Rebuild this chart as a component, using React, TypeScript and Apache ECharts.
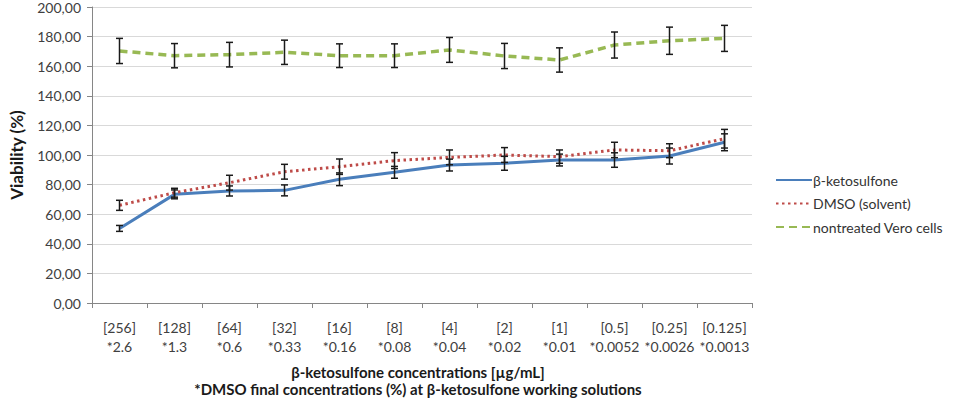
import React, { useEffect, useRef } from "react";
import * as echarts from "echarts";

const categories = [
  "[256]\n*2.6", "[128]\n*1.3", "[64]\n*0.6", "[32]\n*0.33", "[16]\n*0.16", "[8]\n*0.08",
  "[4]\n*0.04", "[2]\n*0.02", "[1]\n*0.01", "[0.5]\n*0.0052", "[0.25]\n*0.0026", "[0.125]\n*0.0013",
];
const ketoValues = [50.4, 73.4, 75.7, 76.1, 83.6, 88.3, 93.2, 94.4, 96.6, 96.6, 99.3, 108.6];
const ketoErrors = [2.0, 3.0, 3.4, 3.7, 4.3, 4.0, 4.0, 4.7, 4.0, 4.9, 5.4, 5.7];
const dmsoValues = [66.0, 74.5, 81.3, 88.7, 92.1, 96.2, 98.4, 100.0, 98.9, 103.4, 102.9, 111.0];
const dmsoErrors = [3.4, 3.0, 5.0, 5.0, 5.2, 5.4, 5.0, 5.0, 4.5, 5.2, 4.7, 6.3];
const veroValues = [170.3, 167.1, 167.8, 169.4, 167.1, 167.1, 171.0, 166.9, 164.2, 174.3, 177.2, 178.8];
const veroErrors = [8.5, 8.2, 8.3, 8.2, 8.0, 8.0, 8.4, 8.5, 8.2, 8.8, 9.2, 8.8];
const yTicks = { min: 0, max: 200, interval: 20 };

const FONT = "Lato, 'Noto Sans', sans-serif";

function errorData(values: number[], errors: number[]) {
  return values.map((v, i) => [i, v, errors[i]]);
}

function errorSeries(name: string, values: number[], errors: number[]) {
  return {
    type: "custom",
    name,
    silent: true,
    z: 5,
    data: errorData(values, errors),
    encode: { x: 0, y: 1 },
    renderItem: (params: any, api: any) => {
      const x = api.value(0);
      const v = api.value(1);
      const e = api.value(2);
      const top = api.coord([x, v + e]);
      const bot = api.coord([x, v - e]);
      const w = 3.5;
      const style = { stroke: "#1a1a1a", lineWidth: 1.5 };
      return {
        type: "group",
        children: [
          { type: "line", shape: { x1: top[0], y1: top[1], x2: bot[0], y2: bot[1] }, style },
          { type: "line", shape: { x1: top[0] - w, y1: top[1], x2: top[0] + w, y2: top[1] }, style },
          { type: "line", shape: { x1: bot[0] - w, y1: bot[1], x2: bot[0] + w, y2: bot[1] }, style },
        ],
      };
    },
  };
}

export default function App() {
  const ref = useRef<HTMLDivElement>(null);
  useEffect(() => {
    document.body.style.margin = "0";
    const chart = echarts.init(ref.current!, undefined, { renderer: "svg" });
    chart.setOption({
      animation: false,
      backgroundColor: "#ffffff",
      textStyle: { fontFamily: FONT },
      grid: { left: 83, right: 212, top: 7, bottom: 101 },
      legend: {
        orient: "vertical",
        left: 770,
        top: 168,
        itemWidth: 36,
        itemHeight: 14,
        itemGap: 9.5,
        itemStyle: { opacity: 0 },
        data: ["β-ketosulfone", "DMSO (solvent)", "nontreated Vero cells"],
        textStyle: { fontFamily: FONT, fontSize: 14, color: "#333333", padding: [0, 0, 0, -4] },
      },
      xAxis: {
        type: "category",
        data: categories,
        boundaryGap: true,
        axisLine: { lineStyle: { color: "#868686", width: 1 } },
        axisTick: { show: true, length: 5, lineStyle: { color: "#868686" } },
        axisLabel: {
          interval: 0,
          margin: 15,
          fontFamily: FONT,
          fontSize: 14,
          lineHeight: 19,
          color: "#404040",
        },
        splitLine: { show: false },
      },
      yAxis: {
        type: "value",
        min: yTicks.min,
        max: yTicks.max,
        interval: yTicks.interval,
        name: "Viability (%)",
        nameLocation: "middle",
        nameGap: 67,
        nameTextStyle: { fontFamily: FONT, fontSize: 17, fontWeight: "bold", color: "#1a1a1a" },
        axisLine: { show: true, lineStyle: { color: "#868686", width: 1 } },
        axisTick: { show: true, length: 5, lineStyle: { color: "#868686" } },
        axisLabel: {
          margin: 11,
          fontFamily: FONT,
          fontSize: 14,
          color: "#404040",
          formatter: (v: number) => v.toFixed(2).replace(".", ","),
        },
        splitLine: { lineStyle: { color: "#d9d9d9", width: 1 } },
      },
      graphic: [
        {
          type: "text",
          x: 418,
          y: 364,
          style: {
            text: "β-ketosulfone concentrations [µg/mL]",
            font: `bold 15px ${FONT}`,
            fill: "#1a1a1a",
            textAlign: "center",
          },
        },
        {
          type: "text",
          x: 418,
          y: 381,
          style: {
            text: "*DMSO final concentrations (%) at β-ketosulfone working solutions",
            font: `bold 15px ${FONT}`,
            fill: "#1a1a1a",
            textAlign: "center",
          },
        },
      ],
      series: [
        {
          name: "β-ketosulfone",
          type: "line",
          data: ketoValues,
          symbol: "none",
          showSymbol: false,
          z: 3,
          lineStyle: { color: "#4a7ebb", width: 3 },
          itemStyle: { color: "#4a7ebb" },
        },
        {
          name: "DMSO (solvent)",
          type: "line",
          data: dmsoValues,
          symbol: "none",
          showSymbol: false,
          z: 3,
          lineStyle: { color: "#be4b48", width: 3, type: [2.5, 3.5] },
          itemStyle: { color: "#be4b48" },
        },
        {
          name: "nontreated Vero cells",
          type: "line",
          data: veroValues,
          symbol: "none",
          showSymbol: false,
          z: 3,
          lineStyle: { color: "#98b954", width: 3.5, type: [8, 5] },
          itemStyle: { color: "#98b954" },
        },
        errorSeries("ketoErr", ketoValues, ketoErrors),
        errorSeries("dmsoErr", dmsoValues, dmsoErrors),
        errorSeries("veroErr", veroValues, veroErrors),
      ],
    });
    return () => chart.dispose();
  }, []);
  return <div ref={ref} style={{ width: 964, height: 404 }} />;
}
